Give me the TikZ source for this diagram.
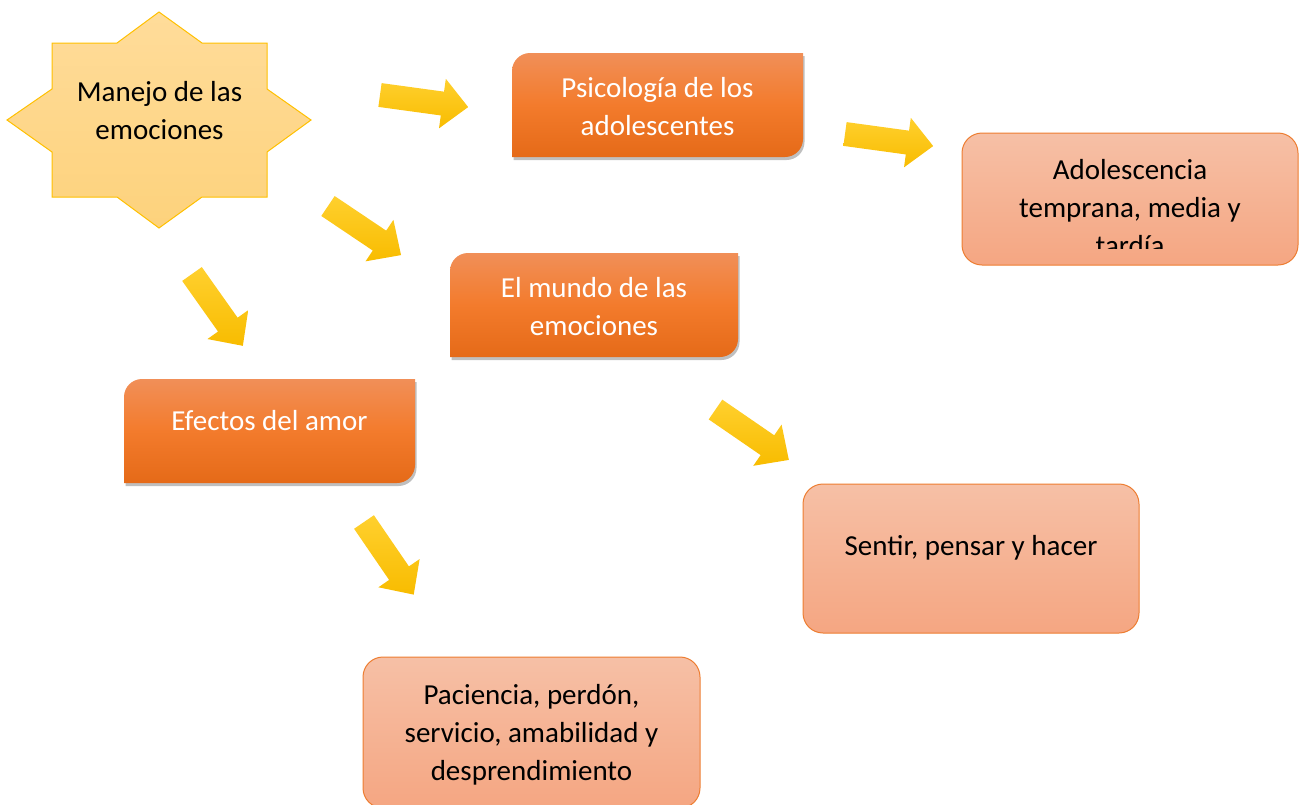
\documentclass[tikz,border=0pt]{standalone}
\usepackage{fontspec}
\setmainfont{Carlito}
\usetikzlibrary{shadows}
\definecolor{orT}{HTML}{F18F58}
\definecolor{orM}{HTML}{F37B2C}
\definecolor{orB}{HTML}{E56A18}
\definecolor{pkT}{HTML}{F6C0A6}
\definecolor{pkB}{HTML}{F5A682}
\definecolor{pkD}{HTML}{ED7D31}
\definecolor{yT}{HTML}{FFD02E}
\definecolor{yB}{HTML}{F8BC00}
\definecolor{stT}{HTML}{FFDC9A}
\definecolor{stB}{HTML}{FDD27C}
\definecolor{stD}{HTML}{FFC000}
\begin{document}
\begin{tikzpicture}[x=1pt,y=-1pt,
  orangebox/.style={top color=orT, bottom color=orB, middle color=orM,
    drop shadow={shadow xshift=1.5pt, shadow yshift=-3pt, opacity=0.25, fill=black}},
  pinkbox/.style={draw=pkD, line width=1pt, top color=pkT, bottom color=pkB, rounded corners=20pt},
  yarrow/.style={top color=yT, bottom color=yB, draw=none},
  startext/.style={font=\fontsize{29}{38}\selectfont, align=center, inner sep=0pt},
  wlabel/.style={startext, text=white},
  blabel/.style={startext, text=black}]
\useasboundingbox (0,0) rectangle (1300,804);
\clip (0,0) rectangle (1300,804);

% star
\path[top color=stT, bottom color=stB, draw=stD, line width=1pt]
  (159,12) -- (202,43) -- (267,43) -- (267,89) -- (311,120) -- (267,152) -- (267,197) -- (202,197)
  -- (159,228) -- (117,197) -- (52,197) -- (52,152) -- (7,120) -- (52,89) -- (52,43) -- (117,43) -- cycle;
\node[blabel] (star) at (159.5,111) {Manejo de las\\emociones};

% orange boxes
\path[orangebox] (512,71) arc[start angle=180,end angle=270,radius=18] -- (803,53) -- (803,139)
  arc[start angle=0,end angle=90,radius=18] -- (512,157) -- cycle;
\node[wlabel] (psico) at (657.5,107) {Psicología de los\\adolescentes};

\path[orangebox] (450,271) arc[start angle=180,end angle=270,radius=18] -- (738,253) -- (738,339)
  arc[start angle=0,end angle=90,radius=18] -- (450,357) -- cycle;
\node[wlabel] (mundo) at (594,307) {El mundo de las\\emociones};

\path[orangebox] (124,397) arc[start angle=180,end angle=270,radius=18] -- (415,379) -- (415,465)
  arc[start angle=0,end angle=90,radius=18] -- (124,483) -- cycle;
\node[wlabel] (efectos) at (269.5,421) {Efectos del amor};

% pink boxes
\path[pinkbox] (962,133) rectangle (1298,265);
\begin{scope}
  \clip (962,133) rectangle (1298,248);
  \node[blabel] (adol) at (1130,208) {Adolescencia\\temprana, media y\\tardía};
\end{scope}

\path[pinkbox] (803,484) rectangle (1139,633);
\node[blabel] (sentir) at (971,548) {Sentir, pensar y hacer};

\path[pinkbox] (363,657) rectangle (700,808);
\node[blabel] (paciencia) at (531.5,735) {Paciencia, perdón,\\servicio, amabilidad y\\desprendimiento};

% block arrows
\path[yarrow, shift={(380,95)}, rotate=-7.8] (0,-12) -- (63,-12) -- (63,-25) -- (89,0) -- (63,25) -- (63,12) -- (0,12) -- cycle;
\path[yarrow, shift={(845,134)}, rotate=-7.8] (0,-12) -- (63,-12) -- (63,-25) -- (89,0) -- (63,25) -- (63,12) -- (0,12) -- cycle;
\path[yarrow, shift={(328,206)}, rotate=-33.9] (0,-12) -- (62,-12) -- (62,-25) -- (88,0) -- (62,25) -- (62,12) -- (0,12) -- cycle;
\path[yarrow, shift={(192,274)}, rotate=-54.7] (0,-12) -- (62,-12) -- (62,-25) -- (88,0) -- (62,25) -- (62,12) -- (0,12) -- cycle;
\path[yarrow, shift={(715.5,409.5)}, rotate=-34.5] (0,-12) -- (63,-12) -- (63,-25) -- (89,0) -- (63,25) -- (63,12) -- (0,12) -- cycle;
\path[yarrow, shift={(364,522)}, rotate=-55.6] (0,-12) -- (62,-12) -- (62,-25) -- (88,0) -- (62,25) -- (62,12) -- (0,12) -- cycle;
\end{tikzpicture}
\end{document}
